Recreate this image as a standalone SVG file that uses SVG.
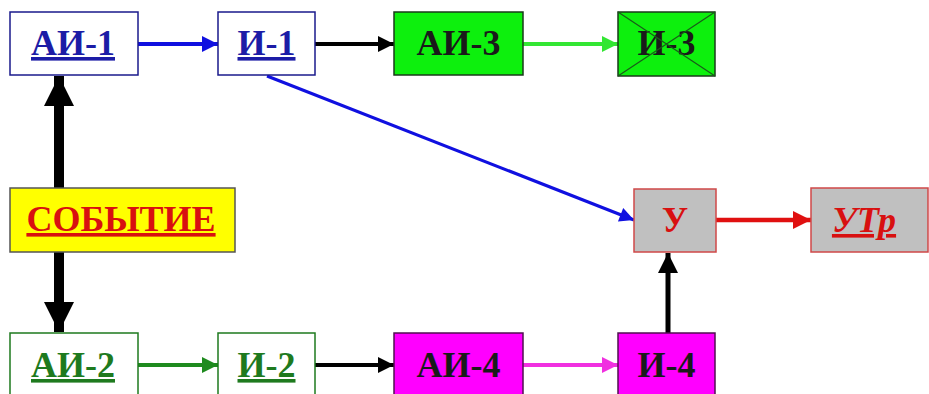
<svg xmlns="http://www.w3.org/2000/svg" width="929" height="394" viewBox="0 0 929 394">
<style>
text{font-family:"Liberation Serif","Times New Roman",serif;font-weight:bold;font-size:36px;text-anchor:middle}
.u{text-decoration:underline;text-decoration-thickness:3px}
.blue rect{fill:#fff;stroke:#1a1a8c;stroke-width:1.5}
.blue text{fill:#1c1ca6}
.dgreen rect{fill:#fff;stroke:#1e7a1e;stroke-width:1.5}
.dgreen text{fill:#1e7a1e}
.lgreen rect{fill:#0df00d;stroke:#1a3a1a;stroke-width:1.5}
.mag rect{fill:#ff00ff;stroke:#501050;stroke-width:1.5}
.gray rect{fill:#c0c0c0;stroke:#d04848;stroke-width:1.5}
.gray text{fill:#d81010}
.ev rect{fill:#ffff00;stroke:#555;stroke-width:1.5}
.ev text{fill:#d81010}
.dark text{fill:#1a1a1a}
</style>
<defs>
<marker id="hb" viewBox="0 0 10 10" refX="10" refY="5" markerWidth="4.5" markerHeight="4" orient="auto" markerUnits="strokeWidth"><path d="M0,0L10,5L0,10z" fill="#1010e0"/></marker>
<marker id="hk" viewBox="0 0 10 10" refX="10" refY="5" markerWidth="4.5" markerHeight="4" orient="auto" markerUnits="strokeWidth"><path d="M0,0L10,5L0,10z" fill="#000"/></marker>
<marker id="hlg" viewBox="0 0 10 10" refX="10" refY="5" markerWidth="4.5" markerHeight="4" orient="auto" markerUnits="strokeWidth"><path d="M0,0L10,5L0,10z" fill="#33e633"/></marker>
<marker id="hdg" viewBox="0 0 10 10" refX="10" refY="5" markerWidth="4.5" markerHeight="4" orient="auto" markerUnits="strokeWidth"><path d="M0,0L10,5L0,10z" fill="#1e8a1e"/></marker>
<marker id="hm" viewBox="0 0 10 10" refX="10" refY="5" markerWidth="4.5" markerHeight="4" orient="auto" markerUnits="strokeWidth"><path d="M0,0L10,5L0,10z" fill="#f030e0"/></marker>
<marker id="hr" viewBox="0 0 10 10" refX="10" refY="5" markerWidth="4.5" markerHeight="4" orient="auto" markerUnits="strokeWidth"><path d="M0,0L10,5L0,10z" fill="#e01010"/></marker>
<marker id="hbig" viewBox="0 0 10 10" refX="10" refY="5" markerWidth="3" markerHeight="3.2" orient="auto" markerUnits="strokeWidth"><path d="M0,0L10,5L0,10z" fill="#000"/></marker>
<marker id="hbd" viewBox="0 0 10 10" refX="10" refY="5" markerWidth="5" markerHeight="4.5" orient="auto" markerUnits="strokeWidth"><path d="M0,0L10,5L0,10z" fill="#1010e0"/></marker>
</defs>

<g id="connectors" fill="none">
<line x1="138" y1="44" x2="218" y2="44" stroke="#1010e0" stroke-width="4" marker-end="url(#hb)"/>
<line x1="315" y1="44" x2="394" y2="44" stroke="#000" stroke-width="4" marker-end="url(#hk)"/>
<line x1="523" y1="44" x2="618" y2="44" stroke="#33e633" stroke-width="4" marker-end="url(#hlg)"/>
<line x1="267" y1="76" x2="634" y2="220" stroke="#1010e0" stroke-width="3.2" marker-end="url(#hbd)"/>
<line x1="716" y1="220" x2="811" y2="220" stroke="#e01010" stroke-width="4.5" marker-end="url(#hr)"/>
<line x1="59" y1="188" x2="59" y2="76" stroke="#000" stroke-width="10" marker-end="url(#hbig)"/>
<line x1="59" y1="252" x2="59" y2="332" stroke="#000" stroke-width="10" marker-end="url(#hbig)"/>
<line x1="138" y1="365" x2="218" y2="365" stroke="#1e8a1e" stroke-width="4" marker-end="url(#hdg)"/>
<line x1="315" y1="365" x2="394" y2="365" stroke="#000" stroke-width="4" marker-end="url(#hk)"/>
<line x1="523" y1="365" x2="618" y2="365" stroke="#f030e0" stroke-width="4" marker-end="url(#hm)"/>
<line x1="668" y1="333" x2="668" y2="253" stroke="#000" stroke-width="5" marker-end="url(#hk)"/>
</g>

<g id="ai1" class="blue"><rect x="10" y="12" width="128" height="63"/><text x="73" y="55" class="u">АИ-1</text></g>
<g id="i1" class="blue"><rect x="218" y="12" width="97" height="63"/><text x="266.5" y="55" class="u">И-1</text></g>
<g id="ai3" class="lgreen dark"><rect x="394" y="12" width="129" height="63"/><text x="458.5" y="55">АИ-3</text></g>
<g id="i3" class="lgreen dark"><rect x="618" y="12" width="97" height="64"/><text x="666.5" y="55">И-3</text><path d="M618,12L715,76M715,12L618,76" stroke="#1a5a1a" stroke-width="1.2"/></g>

<g id="event" class="ev"><rect x="10" y="188" width="225" height="64"/><text x="121" y="231" class="u">СОБЫТИЕ</text></g>
<g id="u" class="gray"><rect x="634" y="189" width="82" height="63"/><text x="675" y="232">У</text></g>
<g id="utr" class="gray"><rect x="811" y="188" width="117" height="64"/><text x="864" y="232" class="u" font-style="italic">УТр</text></g>

<g id="ai2" class="dgreen"><rect x="10" y="333" width="128" height="70"/><text x="73" y="377" class="u">АИ-2</text></g>
<g id="i2" class="dgreen"><rect x="218" y="333" width="97" height="70"/><text x="266.5" y="377" class="u">И-2</text></g>
<g id="ai4" class="mag dark"><rect x="394" y="333" width="129" height="70"/><text x="458.5" y="377">АИ-4</text></g>
<g id="i4" class="mag dark"><rect x="618" y="333" width="97" height="70"/><text x="666.5" y="377">И-4</text></g>
</svg>
